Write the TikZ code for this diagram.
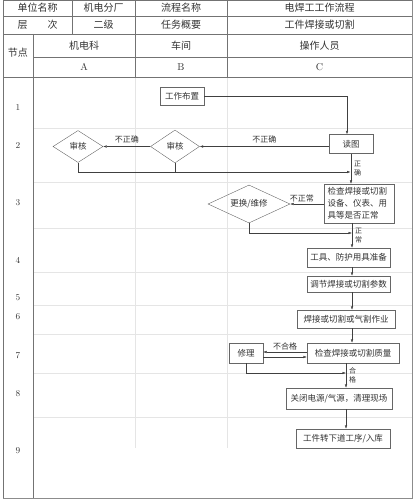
\documentclass[tikz,border=0pt]{standalone}
\usepackage{fontspec}
\newfontfamily\cjk{Noto Sans CJK SC}
\usetikzlibrary{shapes.geometric,arrows.meta,positioning}

\begin{document}
\begin{tikzpicture}[x=1pt,y=-1pt,
	every node/.style={font=\cjk\fontsize{8.5}{10}\selectfont, text=black!80},
	box/.style={draw=black!60, rectangle, inner sep=1pt, minimum height=19pt},
	dec/.style={draw=black!60, diamond, aspect=2, inner sep=0pt},
	arr/.style={draw=black!75, -{Latex[length=3.5pt,width=2.5pt]}},
	ln/.style={draw=black!75},
	lbl/.style={font=\cjk\fontsize{8}{9}\selectfont, inner sep=1pt},
	vlbl/.style={font=\cjk\fontsize{7}{9.5}\selectfont, align=center, inner sep=0pt},
	hd/.style={font=\cjk\fontsize{10}{12}\selectfont},
	num/.style={font=\fontsize{9}{10}\selectfont}]
	\useasboundingbox (0,0) rectangle (415,500);
	% faint lane grid
	\foreach \y in {128,182,228,272,305,334,373,417}
		\draw[black!10] (33,\y) -- (412,\y);
	\foreach \x in {135,227}
		\draw[black!10] (\x,77) -- (\x,448);
	% table frame
	\draw[black!55] (3,498) -- (3,0.5) -- (412,0.5);
	\draw[black!45, line width=1.8pt] (412.5,0.5) -- (412.5,498.5) -- (3,498.5);
	\draw[black!55] (3,16) -- (412,16) (3,34) -- (412,34) (33,57) -- (412,57) (3,77) -- (412,77);
	\draw[black!55] (72,0) -- (72,34) (135,0) -- (135,77) (227,0) -- (227,77) (33,34) -- (33,498);
	%
	\node[hd] (h11) at (37.5,8) {单位名称};
	\node[hd] (h12) at (103.5,8) {机电分厂};
	\node[hd] (h13) at (181,8) {流程名称};
	\node[hd] (h14) at (319.5,8) {电焊工工作流程};
	\node[hd] (h21) at (37.5,25) {层\quad\quad 次};
	\node[hd] (h22) at (103.5,25) {二级};
	\node[hd] (h23) at (181,25) {任务概要};
	\node[hd] (h24) at (319.5,25) {工件焊接或切割};
	\node[hd] (h31) at (18,53) {节点};
	\node[hd] (h32) at (84,45.5) {机电科};
	\node[hd] (h33) at (181,45.5) {车间};
	\node[hd] (h34) at (319.5,45.5) {操作人员};
	\node[num, font=\fontsize{10}{12}\selectfont] (la) at (84,67) {A};
	\node[num, font=\fontsize{10}{12}\selectfont] (lb) at (181,67) {B};
	\node[num, font=\fontsize{10}{12}\selectfont] (lc) at (319.5,67) {C};
	\foreach \n/\y in {1/108,2/146,3/203,4/260,5/298,6/317,7/356,8/394,9/451}
		\node[num] (r\n) at (18,\y) {\n};
	%
	\node[box, minimum width=44pt, minimum height=18pt] (plan) at (182,96) {工作布置};
	\node[dec, minimum width=50pt, minimum height=32pt] (aud1) at (78,146.5) {审核};
	\node[dec, minimum width=49pt, minimum height=33pt] (aud2) at (175,146.5) {审核};
	\node[box, minimum width=44pt] (read) at (351,144) {读图};
	\node[box, text width=63pt, align=left, inner sep=3.5pt, font=\cjk\fontsize{8.5}{12}\selectfont] (chk) at (359,203.5) {检查焊接或切割\\设备、仪表、用\\具等是否正常};
	\node[dec, minimum width=82pt, minimum height=38pt] (rep) at (249,204) {更换/维修};
	\node[box, minimum width=83pt] (tool) at (348.5,257.5) {工具、防护用具准备};
	\node[box, minimum width=83pt, minimum height=16pt] (adj) at (348.5,284) {调节焊接或切割参数};
	\node[box, minimum width=98pt, minimum height=18pt] (weld) at (346,319) {焊接或切割或气割作业};
	\node[box, minimum width=92pt, minimum height=20pt] (qc) at (353,353) {检查焊接或切割质量};
	\node[box, minimum width=34pt, minimum height=20pt] (fix) at (246,353) {修理};
	\node[box, minimum width=106pt, minimum height=21pt] (off) at (339,398.5) {关闭电源/气源，清理现场};
	\node[box, minimum width=94pt] (out) at (343,438.5) {工件转下道工序/入库};
	\coordinate (j1) at (350.5,172);
	\coordinate (j2) at (352,233);
	\coordinate (j3) at (346,373);
	%
	\draw[arr] (plan.east) -| ([xshift=-4pt]read.north);
	\draw[arr] (read.west |- aud2.east) -- node[lbl, above=2pt] {不正确} (aud2.east);
	\draw[arr] (aud2.west) -- node[lbl, above=2pt] {不正确} (aud1.east);
	\draw[arr] (aud1.south) |- (j1);
	\draw[ln] (aud2.south) -- (aud2.south |- j1);
	\draw[arr] (read.south) -- node[vlbl, right=3pt] {正\\确} (read.south |- chk.north);
	\draw[arr] (chk.west |- rep.east) -- node[lbl, above=1pt, pos=0.65] {不正常} (rep.east);
	\draw[arr] (rep.south) |- (j2);
	\draw[arr] (chk.south -| j2) -- node[vlbl, right=3pt] {正\\常} (tool.north -| j2);
	\draw[arr] (tool.south -| j2) -- (adj.north -| j2);
	\draw[arr] (adj.south -| j2) -- (weld.north -| j2);
	\draw[arr] (weld.south -| j2) -- (qc.north -| j2);
	\draw[arr] ([yshift=1pt]qc.west) -- node[lbl, above=1pt] {不合格} ([yshift=1pt]fix.east);
	\draw[arr] ([yshift=-4pt]fix.east) -- ([yshift=-4pt]qc.west);
	\draw[arr] (fix.south) |- (j3);
	\draw[arr] (qc.south -| j3) -- node[vlbl, right=3pt] {合\\格} (off.north -| j3);
	\draw[arr] (off.south -| j3) -- (out.north -| j3);
\end{tikzpicture}
\end{document}
